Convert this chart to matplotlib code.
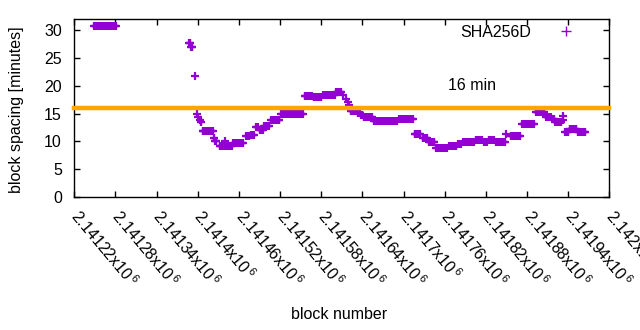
import matplotlib

matplotlib.use("Agg")
import matplotlib.pyplot as plt
import numpy as np
from matplotlib.lines import Line2D

BASE_BLOCK = 2141220

# runs of (nearly) constant block spacing, block offsets relative to BASE_BLOCK
seg_start = [29, 167, 170, 176, 179, 181, 183, 184, 187, 203, 205, 212, 219, 232,
             251, 257, 265, 270, 277, 287, 302, 336, 349, 363, 382, 392, 396, 399,
             400, 403, 413, 418, 422, 437, 474, 496, 508, 517, 528, 546, 560, 567,
             585, 597, 604, 615, 630, 636, 653, 673, 688, 698, 701, 712, 713, 716,
             722, 734]
seg_end = [61, 169, 172, 176, 179, 181, 183, 185, 202, 204, 207, 230, 219, 246,
           255, 262, 268, 275, 284, 299, 333, 346, 360, 380, 389, 392, 396, 399,
           400, 410, 417, 420, 434, 470, 494, 504, 514, 525, 543, 557, 564, 582,
           594, 601, 612, 628, 630, 650, 670, 685, 695, 700, 710, 712, 713, 720,
           732, 745]
seg_value = [30.7, 27.6, 27.0, 21.7, 15.0, 14.3, 13.9, 13.5, 11.9, 10.6, 10.1, 9.2, 10.1, 9.65,
             10.9, 11.2, 12.5, 12.0, 12.8, 13.8, 14.9, 18.2, 17.9, 18.4, 18.8, 18.3, 17.7, 17.1,
             16.5, 15.5, 15.1, 14.7, 14.3, 13.65, 14.0, 11.4, 10.6, 9.9, 8.75, 9.2, 9.5, 9.9,
             10.2, 9.9, 10.3, 9.9, 11.4, 10.9, 13.1, 15.2, 14.4, 14.0, 13.4, 14.6, 13.9, 11.7,
             12.3, 11.6]

target_minutes = 16
x_ticks = [2141220 + 60 * i for i in range(14)]
y_ticks = [0, 5, 10, 15, 20, 25, 30]

PURPLE = "#9400d3"
ORANGE = "#ffa500"
FONT = "Liberation Sans"


def expand_runs():
    blocks, values = [], []
    for start, end, value in zip(seg_start, seg_end, seg_value):
        for b in range(start, end + 1):
            blocks.append(BASE_BLOCK + b)
            values.append(value)
    return np.array(blocks), np.array(values)


def tick_label(v):
    return f"{v / 1e6:.6g}x10" + r"$^{\,6}$"


def main():
    plt.rcParams["font.family"] = FONT
    plt.rcParams["font.size"] = 11.5
    plt.rcParams["mathtext.fontset"] = "custom"
    plt.rcParams["mathtext.rm"] = FONT

    blocks, values = expand_runs()

    fig = plt.figure(figsize=(6.4, 3.3), dpi=100)
    ax = fig.add_axes([0.1161, 0.403, 0.836, 0.5394])

    ax.plot(blocks, values, ls="none", marker="+", ms=6, mew=1.6, color=PURPLE, zorder=2)
    ax.axhline(target_minutes, color=ORANGE, lw=3.2, zorder=3, clip_on=False)
    ax.text(2141765, 20.1, "16 min", ha="left", va="center")

    ax.set_xlim(2141220, 2142000)
    ax.set_ylim(0, 32)
    ax.set_yticks(y_ticks)
    ax.set_xticks(x_ticks)
    ax.set_xticklabels([tick_label(v) for v in x_ticks], rotation=-50,
                       ha="left", va="center", rotation_mode="anchor")
    ax.tick_params(direction="in", top=True, right=True, length=4, width=1)
    ax.tick_params(axis="x", pad=11)
    ax.tick_params(axis="y", pad=9)
    for spine in ax.spines.values():
        spine.set_linewidth(1)

    ax.set_ylabel("block spacing [minutes]")
    ax.yaxis.set_label_coords(-0.094, 0.49)
    ax.set_xlabel("block number")
    ax.xaxis.set_label_coords(0.495, -0.62)

    handle = Line2D([], [], ls="none", marker="+", ms=7, mew=1, color=PURPLE)
    ax.legend([handle], ["SHA256D"], loc="center right", bbox_to_anchor=(0.9415, 0.927),
              frameon=False, markerfirst=False, handlelength=1.5, handletextpad=1.45,
              borderpad=0, borderaxespad=0)

    fig.savefig("out.png", dpi=100)
    plt.close(fig)


if __name__ == "__main__":
    main()
